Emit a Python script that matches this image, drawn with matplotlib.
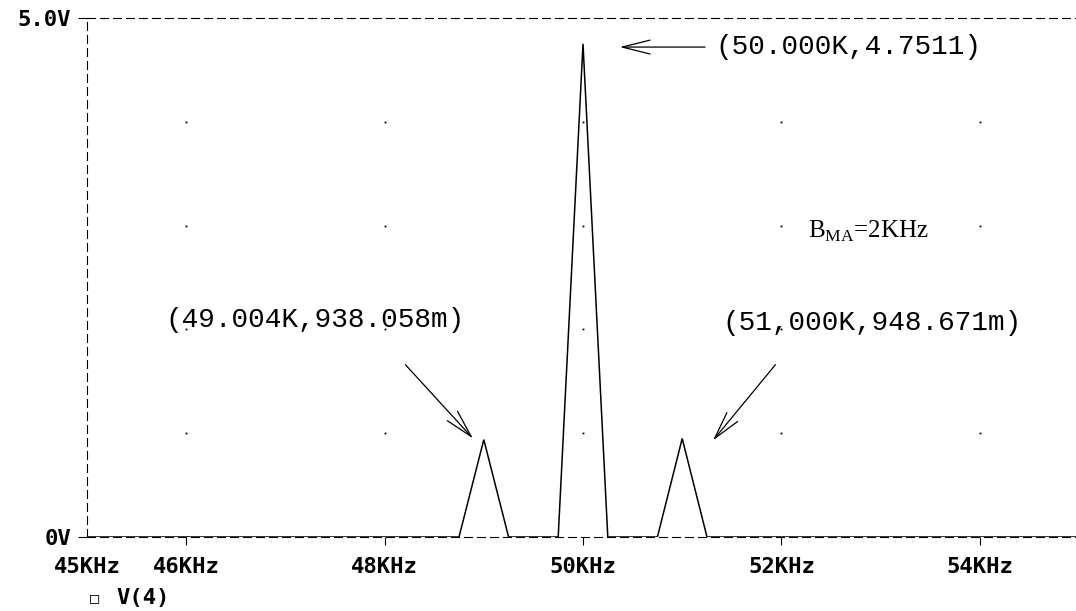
import matplotlib
matplotlib.use("Agg")
import matplotlib.pyplot as plt
from matplotlib.font_manager import FontProperties

plt.rcParams["mathtext.fontset"] = "custom"
plt.rcParams["mathtext.rm"] = "Liberation Serif"

# spectrum trace V(4), sampled every 0.25 KHz
freq_khz = [45.0, 48.75, 49.0, 49.25, 49.75, 50.0, 50.25, 50.75, 51.0, 51.25, 55.0]
volts = [0.0, 0.0, 0.938058, 0.0, 0.0, 4.7511, 0.0, 0.0, 0.948671, 0.0, 0.0]

xticks = [45, 46, 48, 50, 52, 54]
xtick_labels = ["45KHz", "46KHz", "48KHz", "50KHz", "52KHz", "54KHz"]
yticks = [0, 5]
ytick_labels = ["0V", "5.0V"]
grid_x = [46, 48, 50, 52, 54]
grid_y = [1, 2, 3, 4]

cursor_labels = ["(50.000K,4.7511)", "(49.004K,938.058m)", "(51,000K,948.671m)"]
cursor_text_pos = [(51.33, 4.72), (45.79, 2.09), (51.40, 2.06)]
cursor_arrow_tail = [(51.23, 4.72), (48.21, 1.66), (51.94, 1.66)]
cursor_arrow_head = [(50.37, 4.72), (48.89, 0.95), (51.31, 0.93)]

fig = plt.figure(figsize=(10.76, 6.11), dpi=100)
ax = fig.add_axes([87 / 1076, 74 / 611, 992 / 1076, 519 / 611])

dash = (0, (7.2, 4.5))
for side in ["left", "right", "top", "bottom"]:
    ax.spines[side].set_linestyle(dash)
    ax.spines[side].set_linewidth(0.8)

ax.plot(freq_khz, volts, color="black", lw=1.1, solid_joinstyle="miter")

# dotted grid
gx = [x for x in grid_x for _ in grid_y]
gy = [y for _ in grid_x for y in grid_y]
ax.plot(gx, gy, ls="none", marker="s", ms=1.3, color="black", mec="none")

ax.set_xlim(45, 55)
ax.set_ylim(0, 5)
ax.set_xticks(xticks)
ax.set_xticklabels(xtick_labels)
ax.set_yticks(yticks)
ax.set_yticklabels(ytick_labels)
tick_font = dict(family="DejaVu Sans Mono", weight="bold", size=16)
for lab in ax.get_xticklabels() + ax.get_yticklabels():
    lab.set_fontproperties(FontProperties(**tick_font))
ax.tick_params(axis="x", direction="out", length=5.8, width=0.8, pad=8.5)
ax.tick_params(axis="y", direction="out", length=6.5, width=0.8, pad=5)
ax.xaxis.get_major_ticks()[0].tick1line.set_visible(False)

for lab, tp, tail, head in zip(cursor_labels, cursor_text_pos, cursor_arrow_tail, cursor_arrow_head):
    ax.text(tp[0], tp[1], lab, ha="left", va="center",
            family="Liberation Mono", fontsize=20)
    ax.annotate("", xy=head, xytext=tail,
                arrowprops=dict(arrowstyle="->,head_length=2.0,head_width=0.5",
                                color="black", lw=0.9, shrinkA=0, shrinkB=0))

ax.text(52.27, 2.94, r"B$_{\mathrm{MA}}$=2KHz", ha="left", va="center",
        family="Liberation Serif", fontsize=18)

fig.text(95 / 1076, 1 - 598 / 611, "□", ha="center", va="center",
         family="DejaVu Sans Mono", fontsize=11)
fig.text(116 / 1076, 1 - 598 / 611, "V(4)", ha="left", va="center", **tick_font)

fig.savefig("out.png", dpi=100)
